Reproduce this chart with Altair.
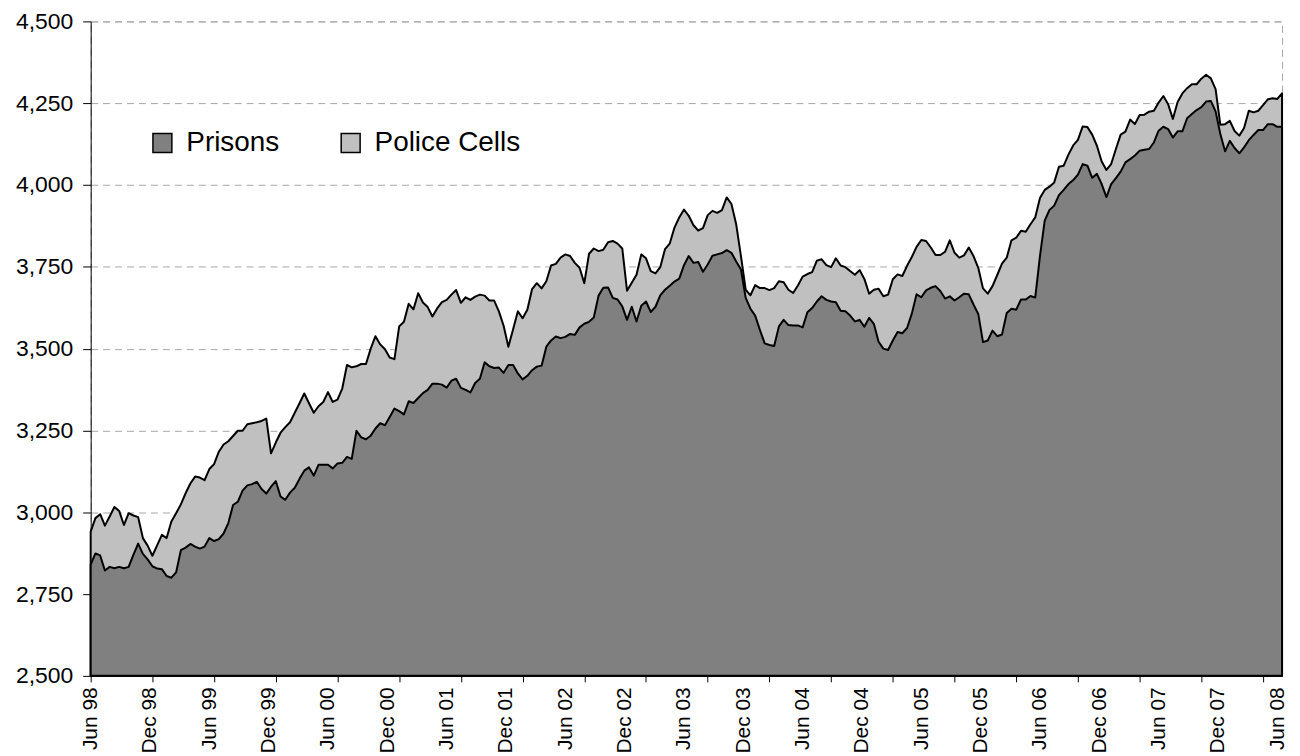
import altair as alt
import pandas as pd

# Prison population (lower outline), sampled every 2 weeks from Jun 98
prisons = [
    2840, 2874, 2868, 2822, 2833, 2829, 2833, 2829, 2833, 2870,
    2904, 2873, 2856, 2835, 2828, 2826, 2805, 2800, 2816, 2884,
    2892, 2903, 2895, 2889, 2895, 2921, 2912, 2918, 2935, 2967,
    3022, 3032, 3066, 3082, 3086, 3093, 3071, 3057, 3078, 3095,
    3048, 3038, 3060, 3075, 3102, 3127, 3137, 3112, 3145, 3145,
    3145, 3134, 3149, 3151, 3169, 3163, 3249, 3229, 3223, 3234,
    3256, 3272, 3266, 3291, 3317, 3309, 3299, 3339, 3334, 3349,
    3364, 3374, 3393, 3393, 3390, 3381, 3402, 3408, 3380, 3374,
    3366, 3395, 3408, 3458, 3446, 3441, 3442, 3426, 3450, 3450,
    3424, 3406, 3417, 3434, 3445, 3448, 3506, 3525, 3537, 3532,
    3536, 3545, 3542, 3565, 3576, 3582, 3595, 3662, 3686, 3687,
    3655, 3650, 3629, 3588, 3628, 3583, 3631, 3644, 3612, 3628,
    3663, 3680, 3692, 3705, 3714, 3755, 3783, 3762, 3765, 3735,
    3757, 3784, 3788, 3792, 3801, 3793, 3766, 3742, 3655, 3622,
    3601, 3557, 3516, 3511, 3508, 3568, 3588, 3572, 3571, 3571,
    3565, 3611, 3624, 3644, 3660, 3649, 3644, 3642, 3616, 3614,
    3601, 3583, 3588, 3567, 3594, 3576, 3521, 3500, 3496, 3525,
    3551, 3547, 3563, 3607, 3666, 3657, 3678, 3686, 3691, 3676,
    3653, 3660, 3647, 3657, 3668, 3666, 3635, 3606, 3520, 3525,
    3555, 3538, 3543, 3609, 3622, 3619, 3650, 3650, 3661, 3656,
    3783, 3891, 3924, 3937, 3969, 3985, 4003, 4015, 4032, 4064,
    4059, 4022, 4034, 4003, 3963, 4003, 4021, 4041, 4069, 4079,
    4090, 4105, 4108, 4110, 4130, 4166, 4178, 4171, 4145, 4164,
    4164, 4204, 4217, 4229, 4238, 4255, 4257, 4225, 4156, 4103,
    4135, 4113, 4097, 4115, 4137, 4153, 4168, 4168, 4186, 4186,
    4178, 4178,
]

# Prisons + police cells (upper outline), same dates
total = [
    2941, 2982, 2994, 2959, 2987, 3016, 3004, 2961, 2997, 2990,
    2985, 2921, 2898, 2867, 2899, 2931, 2921, 2972, 2997, 3024,
    3058, 3088, 3109, 3106, 3098, 3132, 3147, 3185, 3207, 3217,
    3233, 3249, 3249, 3269, 3272, 3275, 3279, 3286, 3180, 3213,
    3243, 3260, 3275, 3304, 3333, 3363, 3333, 3304, 3324, 3337,
    3367, 3337, 3344, 3378, 3450, 3443, 3446, 3453, 3453, 3500,
    3538, 3513, 3498, 3473, 3468, 3568, 3582, 3637, 3620, 3669,
    3641, 3627, 3598, 3623, 3642, 3649, 3665, 3679, 3640, 3657,
    3649, 3659, 3665, 3662, 3647, 3647, 3614, 3570, 3506, 3559,
    3614, 3593, 3619, 3682, 3700, 3684, 3706, 3754, 3759, 3778,
    3788, 3783, 3762, 3747, 3700, 3790, 3806, 3798, 3802, 3825,
    3829, 3821, 3806, 3677, 3701, 3726, 3788, 3776, 3737, 3730,
    3749, 3804, 3821, 3870, 3901, 3925, 3906, 3877, 3861, 3868,
    3908, 3921, 3915, 3923, 3962, 3942, 3880, 3783, 3680, 3663,
    3694, 3685, 3685, 3679, 3685, 3706, 3703, 3680, 3670, 3693,
    3720, 3728, 3734, 3769, 3773, 3755, 3749, 3776, 3754, 3749,
    3737, 3726, 3740, 3713, 3668, 3680, 3683, 3660, 3665, 3712,
    3727, 3722, 3753, 3780, 3811, 3832, 3829, 3809, 3786, 3786,
    3796, 3831, 3793, 3778, 3785, 3809, 3783, 3747, 3684, 3668,
    3691, 3725, 3760, 3778, 3831, 3839, 3860, 3857, 3880, 3901,
    3960, 3985, 3995, 4008, 4056, 4059, 4093, 4121, 4138, 4179,
    4177, 4154, 4120, 4072, 4046, 4064, 4110, 4154, 4163, 4200,
    4186, 4214, 4215, 4224, 4227, 4252, 4272, 4247, 4202, 4254,
    4280, 4296, 4308, 4308, 4325, 4337, 4326, 4293, 4184, 4186,
    4196, 4165, 4151, 4174, 4227, 4222, 4227, 4244, 4262, 4265,
    4263, 4280,
]

weeks = list(range(0, 2 * len(prisons), 2))

# tick marks every 26 weeks, labels every 25 weeks (as in the original)
tick_weeks = [0, 26, 52, 78, 104, 130, 156, 182, 208, 234,
              260, 286, 312, 338, 364, 390, 416, 442, 468, 494]
label_weeks = [0, 25, 50, 75, 100, 125, 150, 175, 200, 225, 250,
               275, 300, 325, 350, 375, 400, 425, 450, 475, 500]
tick_labels = ["Jun 98", "Dec 98", "Jun 99", "Dec 99", "Jun 00", "Dec 00",
               "Jun 01", "Dec 01", "Jun 02", "Dec 02", "Jun 03", "Dec 03",
               "Jun 04", "Dec 04", "Jun 05", "Dec 05", "Jun 06", "Dec 06",
               "Jun 07", "Dec 07", "Jun 08"]
y_ticks = [2500, 2750, 3000, 3250, 3500, 3750, 4000, 4250, 4500]

series_names = ["Prisons", "Police Cells"]
series_colors = ["#808080", "#C0C0C0"]

df = pd.concat([
    pd.DataFrame({"week": weeks, "value": total, "series": "Police Cells"}),
    pd.DataFrame({"week": weeks, "value": prisons, "series": "Prisons"}),
], ignore_index=True)

axis_values = sorted(set(tick_weeks) | set(label_weeks))
label_map = "{" + ",".join(f"'{w}':'{l}'" for w, l in zip(label_weeks, tick_labels)) + "}"
tick_test = " || ".join(f"datum.value === {w}" for w in tick_weeks)

x_enc = alt.X(
    "week:Q",
    scale=alt.Scale(domain=[0, weeks[-1]], nice=False, zero=False),
    axis=alt.Axis(
        values=axis_values,
        labelExpr=f"{label_map}[datum.value] || ''",
        labelAngle=270, labelFontSize=21, labelPadding=5, tickSize=6,
        tickColor="black",
        tickOpacity={"condition": {"test": tick_test, "value": 1}, "value": 0},
        domainColor="black", grid=False, title=None,
        labelColor="black", labelFlush=False, labelOverlap=False,
    ),
)
y_enc = alt.Y(
    "value:Q",
    scale=alt.Scale(domain=[2500, 4500], nice=False, zero=False),
    axis=alt.Axis(
        values=y_ticks, format=",.0f", labelFontSize=23, labelPadding=10, tickSize=8,
        tickColor="black", domainColor="black", grid=True, gridColor="#a8a8a8",
        gridDash=[7, 5], gridWidth=1, title=None, labelColor="black",
    ),
)
color_enc = alt.Color(
    "series:N",
    scale=alt.Scale(domain=series_names, range=series_colors),
    legend=alt.Legend(
        orient="none", legendX=58, legendY=108, direction="horizontal",
        symbolType="square", symbolSize=361, symbolStrokeColor="black",
        symbolStrokeWidth=1.5, symbolOpacity=1, labelFontSize=28, labelOffset=10,
        columnPadding=57, title=None, padding=0, labelColor="black",
    ),
)

def area_layer(name):
    return alt.Chart(df).transform_filter(
        alt.datum.series == name
    ).mark_area(
        stroke="black", strokeWidth=2, strokeJoin="round", opacity=1
    ).encode(
        x=x_enc, y=y_enc, y2=alt.datum(2500), color=color_enc,
    )

chart = alt.layer(area_layer("Police Cells"), area_layer("Prisons")).properties(
    width=1196,
    height=657,
    autosize=alt.AutoSizeParams(type="none"),
    padding={"left": 83, "top": 12, "right": 10, "bottom": 79},
).configure(
    font="Liberation Sans",
).configure_view(
    stroke="#a8a8a8", strokeDash=[7, 5], strokeWidth=1,
)

chart.save("out.html", embed_options={"renderer": "svg", "actions": False})
